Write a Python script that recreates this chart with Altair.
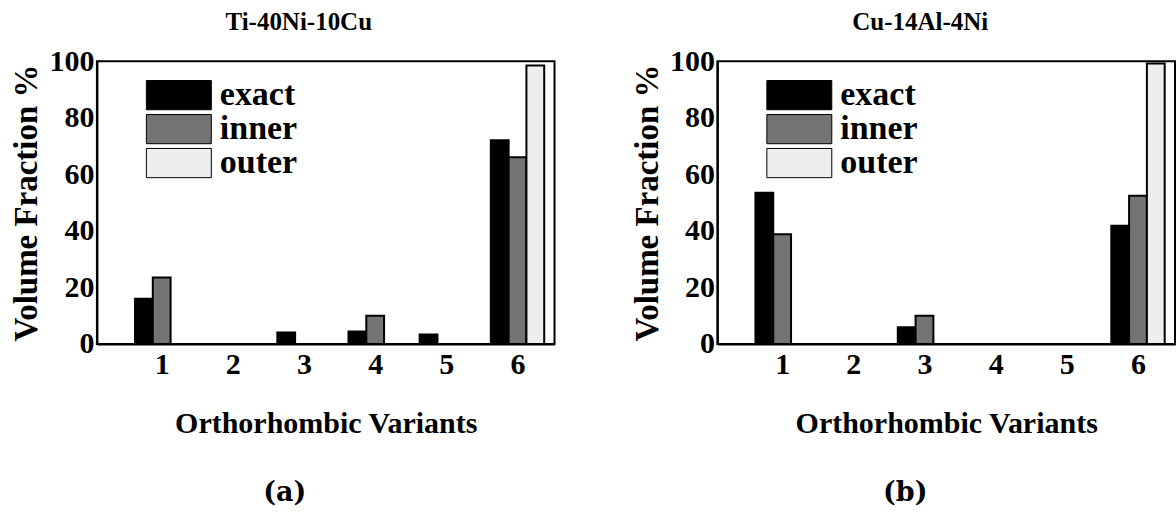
import altair as alt
import pandas as pd

# ---- data ----
variants = [1, 2, 3, 4, 5, 6]
series = ["exact", "inner", "outer"]
colors = ["#000000", "#747474", "#eeeeee"]

ti_exact = [16.0, 0, 4.0, 4.4, 3.3, 72.0]
ti_inner = [23.5, 0, 0, 10.0, 0, 66.0]
ti_outer = [0, 0, 0, 0, 0, 98.5]

cu_exact = [53.5, 0, 5.9, 0, 0, 41.8]
cu_inner = [38.8, 0, 10.0, 0, 0, 52.4]
cu_outer = [0, 0, 0, 0, 0, 99.2]

y_ticks = [0, 20, 40, 60, 80, 100]

SERIF = "Liberation Serif"
W, H = 458, 283
BAR = 0.25  # bar width in variant units


def frame(exact, inner, outer):
    rows = []
    for k, (name, vals) in enumerate(zip(series, [exact, inner, outer])):
        for v, val in zip(variants, vals):
            if val > 0:
                start = v - 1.5 * BAR + k * BAR
                rows.append({"variant": v, "series": name, "value": val,
                             "x0": start, "x1": start + BAR})
    return pd.DataFrame(rows)


def panel(title, exact, inner, outer, caption, dx):
    df = frame(exact, inner, outer)
    bars = alt.Chart(df).mark_bar(stroke="black", strokeWidth=2).encode(
        x=alt.X("x0:Q",
                scale=alt.Scale(domain=[0.09, 6.52], nice=False, zero=False),
                axis=alt.Axis(values=variants, format="d",
                              title="Orthorhombic Variants",
                              labelPadding=6, titlePadding=29)),
        x2="x1:Q",
        y=alt.Y("value:Q",
                scale=alt.Scale(domain=[0, 100], nice=False),
                axis=alt.Axis(values=y_ticks, title="Volume Fraction %",
                              labelPadding=3, titlePadding=5, titleFontSize=33)),
        y2=alt.datum(0),
        color=alt.Color("series:N",
                        scale=alt.Scale(domain=series, range=colors),
                        legend=alt.Legend(
                            title=None, orient="none", legendX=65, legendY=17,
                            padding=0,
                            symbolType="M-2,-0.9H2V0.9H-2Z",
                            symbolSize=1056,
                            symbolStrokeColor="black",
                            symbolStrokeWidth=1,
                            symbolOpacity=1,
                            labelFont=SERIF, labelFontSize=34,
                            labelFontWeight="bold", labelColor="black",
                            labelOffset=24, rowPadding=0)),
    )
    cap = alt.Chart(pd.DataFrame({"t": [caption]})).mark_text(
        font="DejaVu Serif", fontSize=27, fontWeight="bold",
        align="center", baseline="middle", color="black"
    ).encode(text="t:N", x=alt.value(188), y=alt.value(432))
    return alt.layer(bars, cap).properties(
        width=W, height=H,
        title=alt.TitleParams(title, font=SERIF, fontSize=25,
                              fontWeight="bold", color="black",
                              dx=dx, offset=11),
    )


pa = panel("Ti-40Ni-10Cu", ti_exact, ti_inner, ti_outer, "(a)", -27)
pb = panel("Cu-14Al-4Ni", cu_exact, cu_inner, cu_outer, "(b)", -26)

chart = alt.hconcat(pa, pb, spacing=74).resolve_scale(
    color="independent"
).resolve_legend(color="independent").properties(
    padding={"left": 9, "top": 9, "right": 0, "bottom": 0},
    background="white",
).configure_view(
    stroke="black", strokeWidth=2
).configure_axis(
    domainColor="black", domainWidth=2, ticks=False, grid=False,
    labelFont=SERIF, labelFontSize=30, labelFontWeight="bold",
    labelColor="black",
    titleFont=SERIF, titleFontSize=30, titleFontWeight="bold",
    titleColor="black",
)

chart.save("out.html", embed_options={"renderer": "svg", "actions": False})
